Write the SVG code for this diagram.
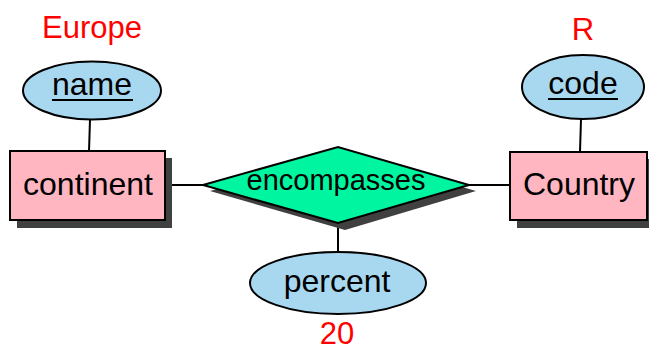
<svg xmlns="http://www.w3.org/2000/svg" width="649" height="351" viewBox="0 0 649 351">
<style>
text{font-family:"Liberation Sans",Arial,sans-serif;font-size:32px;text-anchor:middle;fill:#000}
.red{fill:#ff0000;font-size:31px}
.ent{fill:#ffb6c1;stroke:#000;stroke-width:2}
.att{fill:#a8d8f0;stroke:#000;stroke-width:2}
.rel{fill:#00f5a0;stroke:#000;stroke-width:2}
.sh{fill:#404040}
.ln{stroke:#000;stroke-width:2;fill:none}
</style>
<rect width="649" height="351" fill="#fff"/>
<g id="connectors">
<line class="ln" x1="90" y1="120" x2="89" y2="151"/>
<line class="ln" x1="581" y1="119" x2="580" y2="152"/>
<line class="ln" x1="165" y1="185" x2="204" y2="185"/>
<line class="ln" x1="469" y1="185" x2="510" y2="185"/>
<line class="ln" x1="338" y1="223" x2="338" y2="252"/>
</g>
<g id="continent">
<rect class="sh" x="17" y="158" width="155" height="70"/>
<rect class="ent" x="10" y="151" width="155" height="69"/>
<text x="88" y="195">continent</text>
</g>
<g id="Country">
<rect class="sh" x="517" y="159" width="137" height="69"/>
<rect class="ent" x="510" y="152" width="137" height="68"/>
<text x="579" y="195">Country</text>
</g>
<g id="name">
<ellipse class="att" cx="92" cy="90.5" rx="69" ry="29"/>
<text x="92" y="95">name</text>
<line class="ln" x1="52" y1="100" x2="133" y2="100"/>
<text class="red" x="92" y="38">Europe</text>
</g>
<g id="code">
<ellipse class="att" cx="583" cy="87" rx="61" ry="32"/>
<text x="583" y="94">code</text>
<line class="ln" x1="548" y1="99" x2="618" y2="99"/>
<text class="red" x="583" y="40">R</text>
</g>
<g id="encompasses">
<polygon class="sh" points="210,191 345,153 476,191 345,230"/>
<polygon class="rel" points="203,185 338,147 469,185 338,223"/>
<text x="336" y="190" style="font-size:29px">encompasses</text>
</g>
<g id="percent">
<ellipse class="att" cx="338" cy="283" rx="88" ry="31"/>
<text x="337" y="292">percent</text>
<text class="red" x="337" y="344">20</text>
</g>
</svg>
